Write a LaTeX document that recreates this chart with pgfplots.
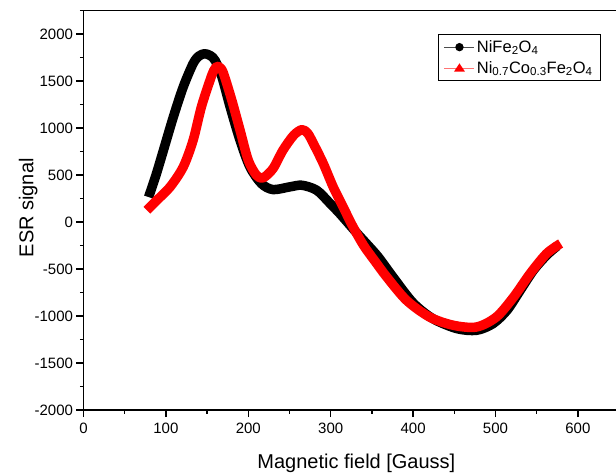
\documentclass[border=0pt]{standalone}
\usepackage{fontspec}
\setmainfont{Liberation Sans}
\usepackage{pgfplots}
\pgfplotsset{compat=1.18}
\begin{document}
\begin{tikzpicture}
\useasboundingbox (-83.5pt,-62pt) rectangle (532.5pt,410pt);
\begin{axis}[
  at={(0pt,0pt)}, anchor=south west,
  scale only axis,
  width=535.6pt, height=399.5pt,
  xmin=0, xmax=650, ymin=-2000, ymax=2250,
  xtick={0,100,...,600}, ytick={-2000,-1500,...,2000},
  minor xtick={50,150,...,650}, minor ytick={-1750,-1250,...,2250},
  tick pos=left, tick align=outside,
  major tick length=7pt, minor tick length=3.5pt,
  every tick/.style={black, line width=1.4pt},
  axis line style={line width=1.8pt},
  /pgf/number format/assume math mode=true,
  /pgf/number format/1000 sep={},
  ticklabel style={font=\fontsize{15}{18}\selectfont},
  xticklabel style={yshift=-2pt},
  xlabel={Magnetic field [Gauss]},
  ylabel={ESR signal},
  every axis x label/.style={at={(axis description cs:0.5095,-0.146)}, anchor=base, font=\fontsize{20}{24}\selectfont},
  every axis y label/.style={at={(axis description cs:-0.0934,0.506)}, rotate=90, anchor=base, font=\fontsize{20}{24}\selectfont},
  legend style={at={(axis description cs:0.662,0.94)}, anchor=north west,
    draw=black, line width=0.9pt, font=\fontsize{16.5}{19}\selectfont,
    inner xsep=5.5pt, inner ysep=3.5pt, row sep=3.5pt},
  legend cell align=left,
]
\addplot[black, line width=9.5pt, smooth, tension=0.5, line join=round, line cap=butt,
  legend image code/.code={\draw[black!70, line width=0.9pt] (0pt,0pt) -- (30pt,0pt); \fill[black, draw=none] (15pt,0pt) circle (4.2pt);}]
coordinates {
(79,265) (88,500) (97,763) (109,1117) (121,1436) (133,1685) (140,1765) (147,1790)
(154,1770) (160,1715) (168,1543) (178,1223) (190,869) (202,585) (216,408) (230,345)
(250,373) (265,391) (283,338) (299,200) (311,90) (322,-20) (334,-140) (346,-255)
(358,-375) (376,-590) (400,-860) (424,-1028) (453,-1134) (477,-1152) (497,-1081)
(514,-939) (530,-727) (546,-514) (562,-354) (575,-255)
};
\addlegendentry{NiFe\textsubscript{2}O\textsubscript{4}}
\addplot[red, line width=9.5pt, smooth, tension=0.5, line join=round, line cap=butt,
  legend image code/.code={\draw[red!55, line width=0.9pt] (0pt,0pt) -- (30pt,0pt); \fill[red, draw=none] (15pt,4.8pt) -- (9.5pt,-3.6pt) -- (20.5pt,-3.6pt) -- cycle;}]
coordinates {
(77,125) (89,231) (105,372) (121,585) (133,869) (143,1223) (153.5,1507) (158,1610)
(162,1655) (166,1640) (170,1579) (180,1295) (190,976) (200,656) (210,497) (218,470)
(230,568) (242,763) (255,922) (265,982) (272,945) (279,835) (291,622) (303,373)
(315,161) (327,-50) (340,-250) (354,-420) (368,-585) (392,-833) (420,-1011)
(449,-1099) (477,-1117) (501,-1011) (522,-798) (542,-549) (562,-336) (579,-229)
};
\addlegendentry{Ni\textsubscript{0.7}Co\textsubscript{0.3}Fe\textsubscript{2}O\textsubscript{4}}
\end{axis}
\end{tikzpicture}
\end{document}
